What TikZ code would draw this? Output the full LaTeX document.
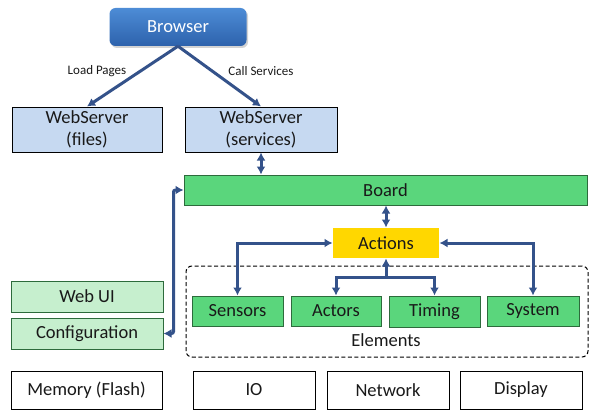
\documentclass[tikz,border=0pt]{standalone}
\usepackage{fontspec}
\setmainfont{Carlito}
\usetikzlibrary{arrows.meta}
\usetikzlibrary{shadows}
\newcommand\boxfont{\fontsize{18.5}{22}\selectfont}
\newcommand\tagfont{\fontsize{13}{14}\selectfont}
\definecolor{arrowblue}{HTML}{34528A}
\definecolor{serverblue}{HTML}{C6D9F1}
\definecolor{boardgreen}{HTML}{5AD67C}
\definecolor{uigreen}{HTML}{C6EFCE}
\definecolor{actyellow}{HTML}{FFD700}
\definecolor{greenedge}{HTML}{2D6B3C}
\definecolor{brTop}{HTML}{4D8CD6}
\definecolor{brBot}{HTML}{2D62AC}
\tikzstyle{blk} = [draw=black, line width=1pt, inner sep=0pt, text=black!90, font=\boxfont, align=center]
\tikzstyle{browserbox} = [rounded corners=6pt, top color=brTop, bottom color=brBot, text=white, font=\boxfont, minimum width=137pt, minimum height=38pt, drop shadow={shadow xshift=1.5pt, shadow yshift=-2pt, opacity=0.35}]
\tikzstyle{server} = [blk, fill=serverblue, minimum height=45pt]
\tikzstyle{board} = [blk, draw=greenedge, fill=boardgreen, minimum height=30pt]
\tikzstyle{cfg} = [blk, draw=greenedge, fill=uigreen, minimum width=152pt, minimum height=31pt]
\tikzstyle{hw} = [blk, fill=white, minimum height=38pt]
\tikzstyle{groupbox} = [draw=black, dash pattern=on 4pt off 2.5pt, line width=1pt, rounded corners=6pt, minimum width=402pt, minimum height=91pt]
\tikzstyle{tag} = [font=\tagfont, text=black!90, inner sep=0pt]
\tikzstyle{link} = [line width=3pt, draw=arrowblue, -{Latex[length=8pt,width=9pt]}]
\tikzstyle{dlink} = [line width=3pt, draw=arrowblue, {Latex[length=8pt,width=9pt]}-{Latex[length=8pt,width=9pt]}]

\begin{document}
\begin{tikzpicture}[x=1pt, y=-1pt]
	    \useasboundingbox (0,0) rectangle (600,420);

	    \node[browserbox] (browser) at (178,27) {Browser};
	    \node[server, minimum width=150pt] (files) at (87,129.5) {WebServer\\(files)};
	    \node[server, minimum width=152pt] (services) at (261,129.5) {WebServer\\(services)};
	    \node[tag] (loadTag) at (97,71) {Load Pages};
	    \node[tag] (callTag) at (261,71) {Call Services};

	    \node[board, minimum width=403pt] (board) at (385.5,190) {Board};
	    \node[blk, draw=none, fill=actyellow, minimum width=106pt, minimum height=30pt] (actions) at (386,243) {Actions};

	    \node[groupbox] (elements) at (387,311.5) {};
	    \node[board, minimum width=91pt] (sensors) at (237.5,311) {Sensors};
	    \node[board, minimum width=90pt] (actors) at (336,311) {Actors};
	    \node[board, minimum width=91pt, minimum height=31pt] (timing) at (434.5,311.5) {Timing};
	    \node[board, minimum width=92pt] (system) at (533,311) {System};
	    \node[tag, font=\boxfont] (elementsTag) at (386,340) {Elements};

	    \node[cfg] (webui) at (87,296.5) {Web UI};
	    \node[cfg] (config) at (87,333.5) {Configuration};

	    \node[hw, minimum width=151pt] (memory) at (86.5,390) {Memory (Flash)};
	    \node[hw, minimum width=122pt] (io) at (254,390) {IO};
	    \node[hw, minimum width=122pt] (network) at (388,390) {Network};
	    \node[hw, minimum width=122pt] (display) at (521,390) {Display};

	    \draw[link] (browser.south) -- (files.north);
	    \draw[link] (browser.south) -- (services.north);
	    \draw[dlink] (services.south) -- (services.south |- board.north);
	    \draw[dlink] (actions.north |- board.south) -- (actions.north);

	    \draw[dlink] (actions.west) -| (sensors.north);
	    \draw[dlink] (actions.east) -| (system.north);

	    \coordinate (fork) at (386,277);
	    \draw[link] (fork) -- (actions.south);
	    \draw[link] (fork) -| (actors.north);
	    \draw[link] (fork) -| (timing.north);

	    \draw[dlink, rounded corners=2pt] (config.east) -- ++(10,0) |- (board.west);
	\end{tikzpicture}
\end{document}
